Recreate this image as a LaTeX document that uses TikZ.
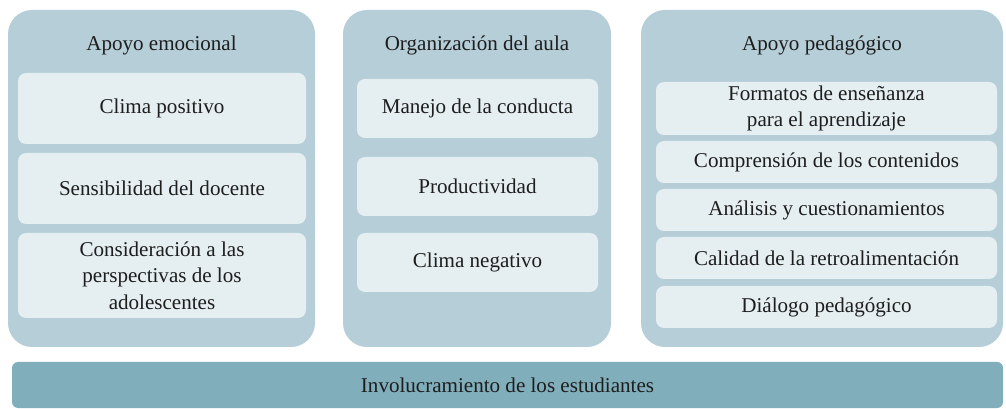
\documentclass[tikz,border=0pt]{standalone}
\usepackage{fontspec}
\setmainfont{Liberation Serif}
\definecolor{outerfill}{HTML}{B5CED8}
\definecolor{innerfill}{HTML}{E5EEF1}
\definecolor{barfill}{HTML}{80AEBB}
\definecolor{txt}{HTML}{1E1E1E}
\tikzset{
  size/.style 2 args={minimum width=#1*0.75pt, minimum height=#2*0.75pt},
  group/.style={fill=outerfill, rounded corners=18pt, inner sep=0},
  item/.style={fill=innerfill, rounded corners=6pt, align=center, text=txt, font=\fontsize{15.8}{20}\selectfont, inner sep=0},
  title/.style={text=txt, font=\fontsize{15.8}{20}\selectfont},
}
\begin{document}
\begin{tikzpicture}[x=0.75pt, y=-0.75pt]
  \useasboundingbox (0,0) rectangle (1006,409);

  \node[group, size={307}{337}] (emo) at (161.5,178.5) {};
  \node[group, size={268}{337}] (aula) at (477,178.5) {};
  \node[group, size={362}{337}] (ped) at (822,178.5) {};

  \node[title] (emot) at (161.5,45) {Apoyo emocional};
  \node[title] (aulat) at (477,45) {Organización del aula};
  \node[title] (pedt) at (822,45) {Apoyo pedagógico};

  % apoyo emocional
  \node[item, size={288}{71}] (e1) at (162,108.5) {Clima positivo};
  \node[item, size={288}{71}] (e2) at (162,188.5) {Sensibilidad del docente};
  \node[item, size={288}{85}] (e3) at (162,275.5) {Consideración a las\\perspectivas de los\\adolescentes};

  % organizacion del aula
  \node[item, size={241}{59}] (a1) at (477.5,108.5) {Manejo de la conducta};
  \node[item, size={241}{59}] (a2) at (477.5,186.5) {Productividad};
  \node[item, size={241}{59}] (a3) at (477.5,262.5) {Clima negativo};

  % apoyo pedagogico
  \node[item, size={341}{53}] (p1) at (826.5,108.5) {Formatos de enseñanza\\para el aprendizaje};
  \node[item, size={341}{42}] (p2) at (826.5,162) {Comprensión de los contenidos};
  \node[item, size={341}{42}] (p3) at (826.5,210) {Análisis y cuestionamientos};
  \node[item, size={341}{42}] (p4) at (826.5,258) {Calidad de la retroalimentación};
  \node[item, size={341}{42}] (p5) at (826.5,307) {Diálogo pedagógico};

  \node[fill=barfill, rounded corners=4.5pt, size={991}{46}, text=txt, font=\fontsize{15.8}{20}\selectfont] (inv) at (507.5,385) {Involucramiento de los estudiantes};
\end{tikzpicture}
\end{document}
